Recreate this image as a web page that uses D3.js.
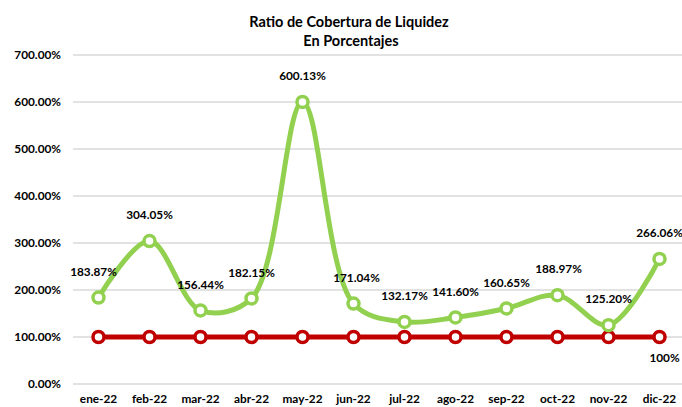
<!DOCTYPE html>
<html>
<head>
<meta charset="utf-8">
<script src="https://cdn.jsdelivr.net/npm/d3@7"></script>
<style>
  body { margin: 0; background: #fff; }
  text { font-family: Lato, "Open Sans", sans-serif; font-weight: bold; fill: #000; }
</style>
</head>
<body>
<div class="chart"></div>
<script>
const months = ['ene-22', 'feb-22', 'mar-22', 'abr-22', 'may-22', 'jun-22',
  'jul-22', 'ago-22', 'sep-22', 'oct-22', 'nov-22', 'dic-22'];
const ratio = [183.87, 304.05, 156.44, 182.15, 600.13, 171.04,
  132.17, 141.60, 160.65, 188.97, 125.20, 266.06];
const limit = [100, 100, 100, 100, 100, 100, 100, 100, 100, 100, 100, 100];
const yTicks = [0, 100, 200, 300, 400, 500, 600, 700];

const width = 682;
const height = 407;
const margin = { top: 55, right: -3, bottom: 23, left: 73 };

const svg = d3.select('.chart')
  .append('svg')
  .attr('width', width)
  .attr('height', height);

const xScale = d3.scaleBand()
  .domain(months)
  .range([margin.left, width - margin.right]);

const yScale = d3.scaleLinear()
  .domain([0, 700])
  .range([height - margin.bottom, margin.top]);

const cx = d => xScale(d) + xScale.bandwidth() / 2;

// gridlines
svg.append('g')
  .selectAll('line')
  .data(yTicks)
  .enter()
  .append('line')
  .attr('x1', margin.left)
  .attr('x2', width)
  .attr('y1', d => yScale(d))
  .attr('y2', d => yScale(d))
  .attr('stroke', '#d9d9d9')
  .attr('stroke-width', 1.5);

// y axis labels
svg.append('g')
  .selectAll('text')
  .data(yTicks)
  .enter()
  .append('text')
  .attr('x', 61)
  .attr('y', d => yScale(d))
  .attr('dy', '0.35em')
  .attr('text-anchor', 'end')
  .style('font-size', '11.8px')
  .text(d => `${d.toFixed(2)}%`);

// x axis labels
svg.append('g')
  .selectAll('text')
  .data(months)
  .enter()
  .append('text')
  .attr('x', d => cx(d))
  .attr('y', 403)
  .attr('text-anchor', 'middle')
  .style('font-size', '11.8px')
  .text(d => d);

// title
svg.append('text')
  .attr('x', 349)
  .attr('y', 27)
  .attr('text-anchor', 'middle')
  .style('font-size', '14.5px')
  .text('Ratio de Cobertura de Liquidez');
svg.append('text')
  .attr('x', 351)
  .attr('y', 46)
  .attr('text-anchor', 'middle')
  .style('font-size', '14.5px')
  .text('En Porcentajes');

// red limit line
const straight = d3.line()
  .x((d, i) => cx(months[i]))
  .y(d => yScale(d));

svg.append('path')
  .datum(limit)
  .attr('d', straight)
  .attr('fill', 'none')
  .attr('stroke', '#c00000')
  .attr('stroke-width', 5);

// green ratio line, smoothed like Excel
const smooth = d3.line()
  .x((d, i) => cx(months[i]))
  .y(d => yScale(d))
  .curve(d3.curveCatmullRom.alpha(0.5));

svg.append('path')
  .datum(ratio)
  .attr('d', smooth)
  .attr('fill', 'none')
  .attr('stroke', '#92d050')
  .attr('stroke-width', 5)
  .attr('stroke-linecap', 'round');

// markers
svg.append('g')
  .selectAll('circle')
  .data(limit)
  .enter()
  .append('circle')
  .attr('cx', (d, i) => cx(months[i]))
  .attr('cy', d => yScale(d))
  .attr('r', 5.5)
  .attr('fill', '#fff')
  .attr('stroke', '#c00000')
  .attr('stroke-width', 3.5);

svg.append('g')
  .selectAll('circle')
  .data(ratio)
  .enter()
  .append('circle')
  .attr('cx', (d, i) => cx(months[i]))
  .attr('cy', d => yScale(d))
  .attr('r', 5.5)
  .attr('fill', '#fff')
  .attr('stroke', '#92d050')
  .attr('stroke-width', 3.5);

// data labels
const labelDx = [-5, 0, 0, 0, 0, 3, 0, 0, 0, 1, 0, 0];
svg.append('g')
  .selectAll('text')
  .data(ratio)
  .enter()
  .append('text')
  .attr('x', (d, i) => cx(months[i]) + labelDx[i])
  .attr('y', d => yScale(d) - 26)
  .attr('dy', '0.35em')
  .attr('text-anchor', 'middle')
  .style('font-size', '11.8px')
  .text(d => `${d.toFixed(2)}%`);

svg.append('text')
  .attr('x', cx(months[11]) + 5)
  .attr('y', yScale(limit[11]) + 21)
  .attr('dy', '0.35em')
  .attr('text-anchor', 'middle')
  .style('font-size', '11.8px')
  .text(`${limit[11]}%`);
</script>
</body>
</html>
